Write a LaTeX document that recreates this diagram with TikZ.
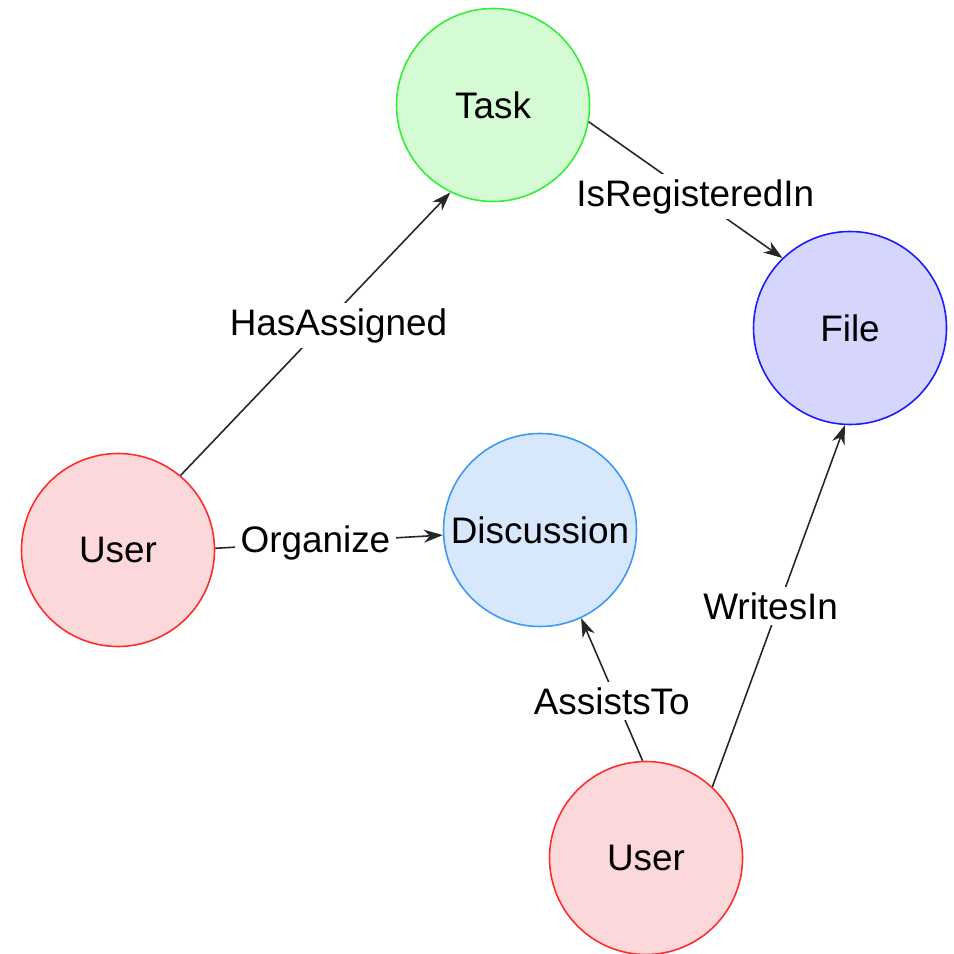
\documentclass[tikz,border=0pt]{standalone}
\usepackage{fontspec}
\setmainfont{Liberation Sans}
\usetikzlibrary{arrows.meta}

\definecolor{taskfill}{HTML}{D5FBD5}
\definecolor{taskline}{HTML}{33EE33}
\definecolor{filefill}{HTML}{D6D6FC}
\definecolor{fileline}{HTML}{1A1AFF}
\definecolor{userfill}{HTML}{FDD8DA}
\definecolor{userline}{HTML}{FF2B2B}
\definecolor{discfill}{HTML}{D8E8FC}
\definecolor{discline}{HTML}{3D97F5}

\begin{document}
\begin{tikzpicture}[
    entity/.style={circle, minimum size=1.93cm, inner sep=0pt, line width=0.45pt,
        font=\fontsize{10.5}{12}\selectfont},
    rel/.style={-{Stealth[length=0.19cm, width=0.13cm, inset=0.06cm]}, line width=0.45pt, black!85},
    lbl/.style={fill=white, text=black, inner sep=1.5pt, font=\fontsize{10.5}{12}\selectfont}
]
    \useasboundingbox (0,0) rectangle (9.54,-9.54);

    % Entities
    \node[entity, draw=taskline, fill=taskfill] (task) at (4.93,-1.05) {Task};
    \node[entity, draw=fileline, fill=filefill] (file) at (8.50,-3.28) {File};
    \node[entity, draw=userline, fill=userfill] (userA) at (1.18,-5.50) {User};
    \node[entity, draw=discline, fill=discfill] (disc) at (5.40,-5.30) {Discussion};
    \node[entity, draw=userline, fill=userfill] (userB) at (6.46,-8.58) {User};

    % Relations
    \draw[rel] (userA.50) -- node[lbl, pos=0.53, xshift=0.15cm] {HasAssigned} (task.244);
    \draw[rel] (task.-10) -- node[lbl, pos=0.55] {IsRegisteredIn} (file.134);
    \draw[rel] (userA.1) -- node[lbl, pos=0.44] {Organize} (disc.183);
    \draw[rel] (userB.92) -- node[lbl, pos=0.42, xshift=-0.05cm] {AssistsTo} (disc.-65);
    \draw[rel] (userB.47) -- node[lbl, pos=0.5, xshift=-0.08cm] {WritesIn} (file.-93);
\end{tikzpicture}
\end{document}
